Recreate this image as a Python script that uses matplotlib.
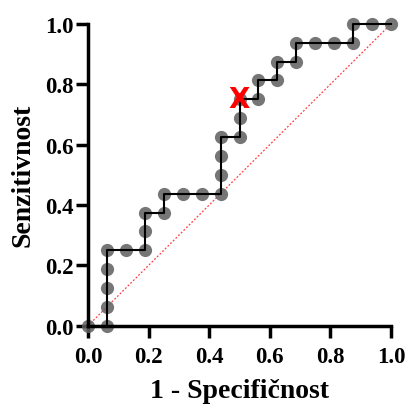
import matplotlib
matplotlib.use('Agg')
import matplotlib.pyplot as plt

# ROC body (1 - specificnost, senzitivnost), v 1/16 korakih
fpr = [0, 1/16, 1/16, 1/16, 1/16, 1/16, 2/16, 3/16, 3/16, 3/16, 4/16, 4/16,
       5/16, 6/16, 7/16, 7/16, 7/16, 7/16, 8/16, 8/16, 8/16, 9/16, 9/16,
       10/16, 10/16, 11/16, 11/16, 12/16, 13/16, 14/16, 14/16, 15/16, 1]
tpr = [0, 0, 1/16, 2/16, 3/16, 4/16, 4/16, 4/16, 5/16, 6/16, 6/16, 7/16,
       7/16, 7/16, 7/16, 8/16, 9/16, 10/16, 10/16, 11/16, 12/16, 12/16, 13/16,
       13/16, 14/16, 14/16, 15/16, 15/16, 15/16, 15/16, 1, 1, 1]
cut_x, cut_y = 0.5, 0.75
ticks = [0.0, 0.2, 0.4, 0.6, 0.8, 1.0]

plt.rcParams['font.family'] = 'Liberation Serif'
plt.rcParams['font.weight'] = 'bold'

fig = plt.figure(figsize=(4.07, 4.06), dpi=100)
ax = fig.add_axes([0.216, 0.195, 0.745, 0.744])

ax.plot([0, 1], [0, 1], color='red', linestyle=(0, (1.5, 1.5)), linewidth=0.9, alpha=0.75, zorder=1)
ax.plot(fpr, tpr, linestyle='none', marker='o', markersize=9.5, color='#5e5e5e',
        alpha=0.85, markeredgewidth=0, clip_on=False, zorder=2)
ax.plot(fpr, tpr, color='black', linewidth=1.5, clip_on=False, zorder=3)
ax.text(cut_x, cut_y, 'X', color='red', fontsize=20, fontweight='bold', family='DejaVu Sans',
        ha='center', va='center', zorder=4)

ax.set_xlim(0, 1)
ax.set_ylim(0, 1)
ax.set_xticks(ticks)
ax.set_yticks(ticks)
ax.set_xticklabels([f'{t:.1f}' for t in ticks])
ax.set_yticklabels([f'{t:.1f}' for t in ticks])
ax.spines['top'].set_visible(False)
ax.spines['right'].set_visible(False)
for s in ['left', 'bottom']:
    ax.spines[s].set_linewidth(2.5)
ax.tick_params(width=2.5, length=8.5, direction='out', labelsize=16.5)
ax.tick_params(axis='y', pad=1.5)
ax.tick_params(axis='x', pad=6)
ax.set_xlabel('1 - Specifičnost', fontsize=20, fontweight='bold', labelpad=8)
ax.set_ylabel('Senzitivnost', fontsize=20, fontweight='bold', labelpad=7)

fig.savefig('out.png', dpi=100)
